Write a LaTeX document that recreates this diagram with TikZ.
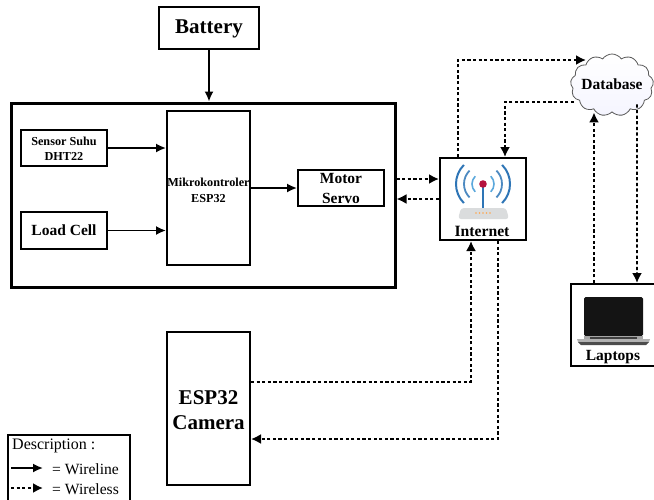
\documentclass[tikz,border=0pt]{standalone}
\usepackage{fontspec}
\setmainfont{Liberation Serif}
\usetikzlibrary{arrows.meta,shapes.symbols,calc}
\newcommand{\fz}[1]{\fontsize{#1}{#1}\selectfont}
\definecolor{wifiblue}{HTML}{2E75B6}
\definecolor{wifilight}{HTML}{5BA8DC}
\definecolor{dotred}{HTML}{B5123E}
\definecolor{basegray}{HTML}{DADCDD}
\tikzset{
  block/.style={draw=black,line width=2pt,inner sep=0pt,align=center,font=\bfseries},
  wire/.style={line width=1.7pt,-{Latex[length=10pt,width=9pt]}},
  wless/.style={line width=1.9pt,dash pattern=on 3.2pt off 2.4pt,-{Latex[length=10pt,width=10pt]}},
  lbl/.style={inner sep=0pt,font=\bfseries},
}
\begin{document}
\begin{tikzpicture}[x=1pt,y=-1pt]
\useasboundingbox (0,0) rectangle (654,499);
\clip (0,0) rectangle (654,499);
% boxes
\node[block,minimum width=100pt,minimum height=42pt] (bat) at (209,28) {};
\node[lbl,font=\bfseries\fz{21}] (battxt) at (209,29) {Battery};
\node[block,line width=3pt,minimum width=384pt,minimum height=184pt] (outer) at (203,195) {};
\node[block,minimum width=86pt,minimum height=36pt] (sensor) at (64,148) {};
\node[lbl,align=center,font=\bfseries\fz{12.2}] (sensortxt) at (64,148.5) {Sensor Suhu\\[3pt]DHT22};
\node[block,minimum width=86pt,minimum height=37pt,font=\bfseries\fz{15.5}] (load) at (64,230.5) {Load Cell};
\node[block,minimum width=83pt,minimum height=154pt] (mcu) at (208.5,188) {};
\node[lbl,align=center,font=\bfseries\fz{12.2}] (mcutxt) at (208.5,190) {Mikrokontroler\\[4pt]ESP32};
\node[block,minimum width=86pt,minimum height=36pt] (servo) at (341,188) {};
\node[lbl,align=center,font=\bfseries\fz{15.5}] (servotxt) at (341,188.5) {Motor\\[5pt]Servo};
\node[block,minimum width=86pt,minimum height=82pt] (inet) at (483,199) {};
\node[lbl,font=\bfseries\fz{15.7}] (inettxt) at (482,231) {Internet};
\node[cloud,cloud puffs=13,cloud puff arc=110,aspect=1.35,draw=black!65,line width=0.8pt,minimum width=83pt,minimum height=62pt,inner sep=0pt,top color=white,bottom color=blue!4] (db) at (612,85) {};
\node[lbl,font=\bfseries\fz{15.5}] (dbtxt) at (612,84) {Database};
\node[block,minimum width=92pt,minimum height=82pt] (lap) at (617,325) {};
\node[lbl,font=\bfseries\fz{15.5}] (laptxt) at (613,357) {Laptops};
\node[block,minimum width=83pt,minimum height=153pt] (cam) at (208.5,408.5) {};
\node[lbl,align=center,font=\bfseries\fz{21}] (camtxt) at (208.5,410) {ESP32\\[4pt]Camera};
\node[draw=black,line width=1.5pt,minimum width=122pt,minimum height=72pt,inner sep=0pt] (leg) at (69,471) {};
% router icon
\fill[basegray,rounded corners=3pt] (458,219) -- (461,208) -- (506,208) -- (509,219) -- cycle;
\foreach \xx in {476,479.5,483,486.5,490}{\fill[orange!70] (\xx,213) circle (0.8pt);}
\draw[wifiblue,line width=1.5pt] (483,185) -- (483,208);
\fill[dotred] (483,184) circle (3.8pt);
\foreach \r/\c/\w/\a in {11/wifilight/1.6/45,19/wifiblue!85/1.8/45,27/wifiblue/2/45}{
  \draw[\c,line width=\w pt] (483,184) ++(-\a:\r pt) arc[start angle=-\a,end angle=\a,radius=\r pt];
  \draw[\c,line width=\w pt] (483,184) ++(180-\a:\r pt) arc[start angle=180-\a,end angle=180+\a,radius=\r pt];
}
% laptop icon
\fill[black!92,rounded corners=1.5pt] (584,297) rectangle (643,336);
\fill[black!35] (584,335.5) rectangle (643,339);
\fill[black!75] (590,336.5) rectangle (637,338.5);
\fill[black!30] (577,339) -- (650,339) -- (649,342) -- (578,342) -- cycle;
\fill[black!70] (578,342) -- (649,342) -- (646,345) -- (581,345) -- cycle;
% wireline
\draw[wire] (bat.south) -- (bat.south |- outer.north);
\draw[wire] (sensor.east) -- (sensor.east -| mcu.west);
\draw[wire] (load.east) -- (load.east -| mcu.west);
\draw[wire] (mcu.east |- servo.west) -- (servo.west);
% wireless
\draw[wless] ([yshift=20pt]outer.east |- inet.west) -- ([yshift=20pt]inet.west);
\draw[wless] (inet.west) -- (inet.west -| outer.east);
\coordinate (dbIn) at (586,60);
\coordinate (dbOut) at (574,102);
\draw[wless] ([xshift=-25pt]inet.north) |- (dbIn);
\draw[wless] (dbOut) -| ([xshift=22pt]inet.north);
\draw[wless] ([xshift=-23pt]lap.north) -- ([xshift=-23pt]lap.north |- db.south);
\draw[wless] ([xshift=25pt,yshift=8pt]db.south) -- ([xshift=20pt]lap.north);
\coordinate (camA) at (cam.east |- 0,382);
\coordinate (camB) at (cam.east |- 0,439);
\draw[wless] (camA) -| ([xshift=-12pt]inet.south);
\draw[wless] ([xshift=15pt]inet.south) |- (camB);
% legend
\node[anchor=west,inner sep=0pt,font=\fz{16}] (legT) at (12,446) {Description :};
\coordinate (wA) at (11,468); \coordinate (wB) at (43,468);
\coordinate (lA) at (11,488); \coordinate (lB) at (43,488);
\draw[wire] (wA) -- (wB);
\draw[wless] (lA) -- (lB);
\node[anchor=west,inner sep=0pt,font=\fz{15.6}] (legW) at (52,469.5) {= Wireline};
\node[anchor=west,inner sep=0pt,font=\fz{15.6}] (legL) at (52,489) {= Wireless};
\end{tikzpicture}
\end{document}
